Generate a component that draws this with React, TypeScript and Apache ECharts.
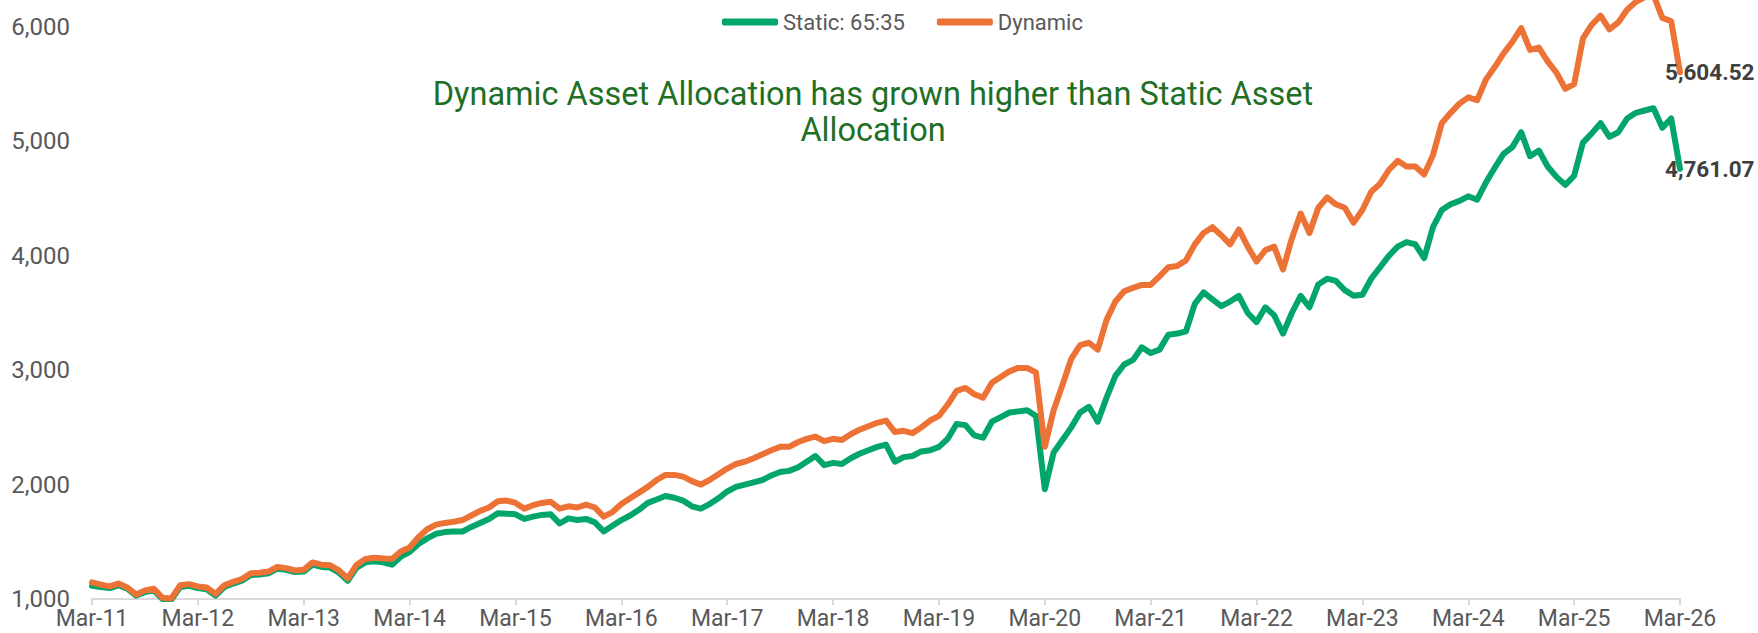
import React, { useEffect, useRef } from "react";
import * as echarts from "echarts";

const FONT = "Roboto, 'Noto Sans', sans-serif";

const MONTH_NAMES = ["Jan", "Feb", "Mar", "Apr", "May", "Jun", "Jul", "Aug", "Sep", "Oct", "Nov", "Dec"];
const START_YEAR = 11;
const START_MONTH = 2; // March
const N_POINTS = 181;
const categories: string[] = Array.from({ length: N_POINTS }, (_, i) => {
  const t = START_MONTH + i;
  return `${MONTH_NAMES[t % 12]}-${String(START_YEAR + Math.floor(t / 12)).padStart(2, "0")}`;
});

const seriesNames = ["Static: 65:35", "Dynamic"];
const seriesColors = ["#03A66A", "#EC7236"];

// Static 65:35 (monthly, Mar-11 .. Mar-26)
const staticValues = [
  1115, 1105, 1095, 1120, 1090, 1030, 1060, 1075, 1000, 995, 1105, 1115,
  1095, 1085, 1030, 1105, 1135, 1160, 1210, 1215, 1225, 1265, 1255, 1235,
  1240, 1300, 1280, 1275, 1230, 1160, 1275, 1320, 1330, 1320, 1300, 1370,
  1410, 1480, 1530, 1570, 1585, 1590, 1590, 1630, 1665, 1700, 1750, 1745,
  1740, 1700, 1720, 1735, 1740, 1660, 1705, 1690, 1700, 1670, 1590, 1640,
  1690, 1730, 1780, 1840, 1870, 1900, 1885, 1860, 1810, 1790, 1830, 1880,
  1940, 1980, 2000, 2020, 2040, 2080, 2110, 2120, 2150, 2200, 2250, 2170,
  2190, 2180, 2230, 2270, 2300, 2330, 2350, 2200, 2240, 2250, 2290, 2300,
  2330, 2400, 2530, 2520, 2430, 2410, 2550, 2590, 2630, 2640, 2650, 2600,
  1960, 2280, 2390, 2500, 2630, 2680, 2550, 2760, 2950, 3050, 3090, 3200,
  3150, 3180, 3310, 3320, 3340, 3580, 3680, 3620, 3560, 3600, 3650, 3500,
  3420, 3550, 3480, 3320, 3500, 3650, 3550, 3750, 3800, 3780, 3700, 3650,
  3660, 3800, 3900, 4000, 4080, 4120, 4100, 3980, 4250, 4400, 4450, 4480,
  4520, 4490, 4640, 4770, 4890, 4950, 5080, 4870, 4920, 4780, 4690, 4620,
  4700, 4990, 5070, 5160, 5040, 5080, 5200, 5250, 5270, 5290, 5120, 5200,
  4761.07,
];

// Dynamic (monthly, Mar-11 .. Mar-26)
const dynamicValues = [
  1145, 1125, 1110, 1135, 1100, 1040, 1075, 1090, 1010, 1005, 1120, 1130,
  1110, 1100, 1045, 1120, 1150, 1175, 1225, 1230, 1240, 1280, 1270, 1250,
  1255, 1320, 1300, 1295, 1250, 1180, 1300, 1350, 1360, 1355, 1350, 1415,
  1450, 1540, 1610, 1650, 1665, 1675, 1690, 1730, 1770, 1800, 1855, 1860,
  1840, 1790, 1820, 1840, 1850, 1790, 1810, 1800, 1825, 1800, 1720, 1760,
  1830, 1880, 1930, 1980, 2040, 2085, 2085, 2070, 2030, 2000, 2040, 2090,
  2140, 2180, 2200, 2230, 2265, 2300, 2330, 2330, 2370, 2400, 2420, 2380,
  2400, 2390, 2440, 2480, 2510, 2540, 2560, 2460, 2470, 2450, 2500, 2560,
  2600, 2700, 2820, 2845, 2790, 2760, 2890, 2940, 2990, 3020, 3020, 2980,
  2330, 2650, 2870, 3100, 3220, 3240, 3180, 3440, 3600, 3690, 3720, 3745,
  3745, 3820, 3900, 3910, 3960, 4100, 4200, 4250, 4180, 4100, 4230, 4080,
  3950, 4050, 4080, 3880, 4150, 4370, 4200, 4420, 4510, 4450, 4420, 4290,
  4400, 4560, 4630, 4750, 4830, 4780, 4780, 4710, 4880, 5160, 5250, 5330,
  5385, 5360, 5540, 5650, 5770, 5870, 5990, 5800, 5820, 5700, 5600, 5460,
  5500, 5900, 6020, 6100, 5980, 6040, 6150, 6220, 6260, 6280, 6080, 6050,
  5604.52,
];

const Y_MIN = 1000;
const Y_MAX = 7000;
const Y_STEP = 1000;

const titleLines = [
  "Dynamic Asset Allocation has grown higher than Static Asset",
  "Allocation",
];

const fmt2 = (v: number) =>
  v.toLocaleString("en-US", { minimumFractionDigits: 2, maximumFractionDigits: 2 });

export default function App() {
  const ref = useRef<HTMLDivElement>(null);

  useEffect(() => {
    if (!ref.current) return;
    const chart = echarts.init(ref.current, undefined, { renderer: "svg" });
    const valuesList = [staticValues, dynamicValues];
    const isYearTick = (i: number) => i % 12 === 0;

    chart.setOption({
      animation: false,
      grid: {
        left: 92,
        right: 78,
        top: -87.4,
        bottom: 34,
        containLabel: false,
        outerBoundsMode: "none",
      },
      legend: {
        data: seriesNames,
        left: 717,
        top: 6,
        icon: "roundRect",
        itemWidth: 56,
        itemHeight: 7,
        itemGap: 32,
        textStyle: { fontFamily: FONT, fontSize: 22, color: "#595959" },
      },
      graphic: [
        {
          type: "text",
          x: 873,
          y: 112,
          style: {
            text: titleLines.join("\n"),
            align: "center",
            verticalAlign: "middle",
            textAlign: "center",
            textVerticalAlign: "middle",
            lineHeight: 36,
            fontFamily: FONT,
            fontSize: 32.5,
            fill: "#1F6F25",
          },
          z: 10,
        },
      ],
      xAxis: {
        type: "category",
        data: categories,
        boundaryGap: false,
        axisLine: { lineStyle: { color: "#D9D9D9", width: 2 } },
        axisTick: {
          show: true,
          interval: (i: number) => isYearTick(i),
          length: 6,
          lineStyle: { color: "#D9D9D9", width: 2 },
        },
        axisLabel: {
          interval: (i: number) => isYearTick(i),
          color: "#595959",
          fontFamily: FONT,
          fontSize: 23,
          lineHeight: 23,
          margin: 8,
        },
        splitLine: { show: false },
      },
      yAxis: {
        type: "value",
        min: Y_MIN,
        max: Y_MAX,
        interval: Y_STEP,
        axisLine: { show: false },
        axisTick: { show: false },
        splitLine: { show: false },
        axisLabel: {
          formatter: (v: number) => (v > 6000 ? "" : v.toLocaleString("en-US")),
          showMaxLabel: false,
          color: "#595959",
          fontFamily: FONT,
          fontSize: 24,
          margin: 22,
        },
      },
      series: seriesNames.map((name, k) => ({
        name,
        type: "line",
        data: valuesList[k],
        showSymbol: false,
        symbol: "none",
        lineStyle: { width: 6, color: seriesColors[k], cap: "round", join: "round" },
        itemStyle: { color: seriesColors[k] },
        endLabel: {
          show: true,
          distance: -15,
          formatter: (p: any) => fmt2(Number(p.value)),
          color: "#3F3F3F",
          fontWeight: "bold",
          fontFamily: FONT,
          fontSize: 22.5,
        },
        z: 2 + k,
      })),
    });

    return () => chart.dispose();
  }, []);

  return (
    <div
      ref={ref}
      style={{ position: "absolute", left: 0, top: 0, width: 1758, height: 633 }}
    />
  );
}
